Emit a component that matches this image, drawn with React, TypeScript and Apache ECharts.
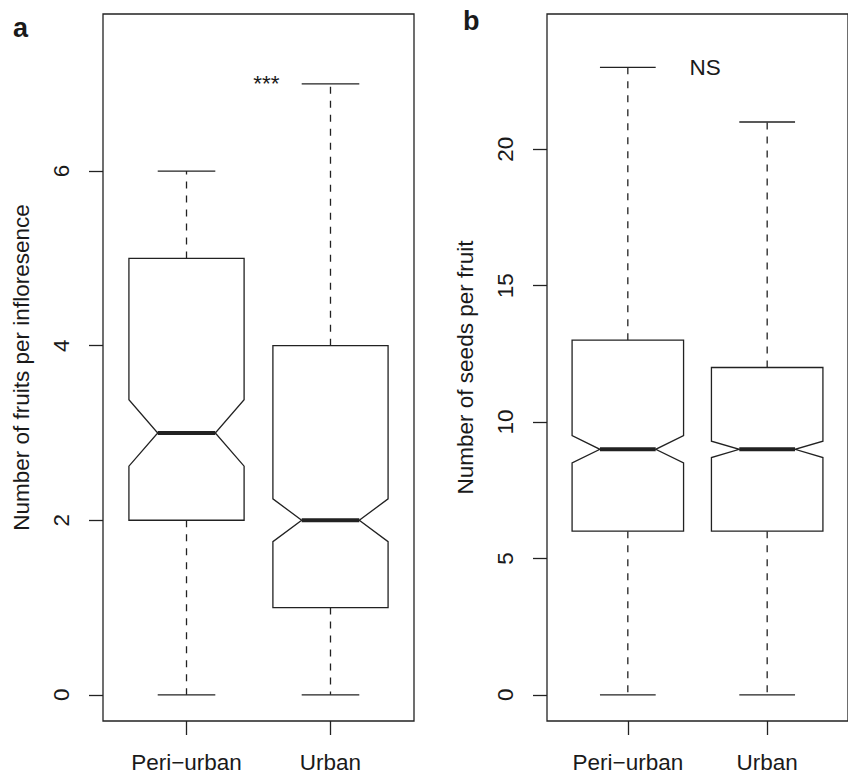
import React, { useEffect, useRef } from "react";
import * as echarts from "echarts";

// ---------- data ----------
const categories = ["Peri\u2212urban", "Urban"];
const categoryPositions = [1, 2];

// Panel a: number of fruits per infloresence
const fruitsMin = [0, 0];
const fruitsQ1 = [2, 1];
const fruitsMedian = [3, 2];
const fruitsQ3 = [5, 4];
const fruitsMax = [6, 7];
const fruitsNotchLow = [2.62, 1.755];
const fruitsNotchHigh = [3.38, 2.245];
const fruitsTicks = [0, 2, 4, 6];
const fruitsNote = ["***"];
const fruitsNotePos = [1.555, 7];

// Panel b: number of seeds per fruit
const seedsMin = [0, 0];
const seedsQ1 = [6, 6];
const seedsMedian = [9, 9];
const seedsQ3 = [13, 12];
const seedsMax = [23, 21];
const seedsNotchLow = [8.5, 8.7];
const seedsNotchHigh = [9.5, 9.3];
const seedsTicks = [0, 5, 10, 15, 20];
const seedsNote = ["NS"];
const seedsNotePos = [1.555, 23];

const panelLabels = ["a", "b"];
const yTitles = ["Number of fruits per infloresence", "Number of seeds per fruit"];

// ---------- style ----------
const INK = "#222222";
const TEXT = "#1a1a1a";
const FONT = "'Liberation Sans', Arial, Helvetica, sans-serif";
const FS = 22.5;
const LW = 1.3;
const BOX_HALF = 0.4;
const STAPLE_HALF = 0.2;

function boxData(mn: number[], q1: number[], md: number[], q3: number[], mx: number[], nl: number[], nh: number[]) {
  return categoryPositions.map((x, i) => [x, mn[i], q1[i], md[i], q3[i], mx[i], nl[i], nh[i]]);
}

function renderBox(params: any, api: any) {
  const x = api.value(0);
  const mn = api.value(1);
  const q1 = api.value(2);
  const md = api.value(3);
  const q3 = api.value(4);
  const mx = api.value(5);
  const nl = api.value(6);
  const nh = api.value(7);
  const c = (xx: number, yy: number) => api.coord([xx, yy]);
  const L = x - BOX_HALF;
  const R = x + BOX_HALF;
  const l = x - STAPLE_HALF;
  const r = x + STAPLE_HALF;
  const poly = [
    c(L, q1), c(L, nl), c(l, md), c(L, nh), c(L, q3),
    c(R, q3), c(R, nh), c(r, md), c(R, nl), c(R, q1),
  ];
  const line = (a: number[], b: number[], extra: any = {}) => ({
    type: "line",
    shape: { x1: a[0], y1: a[1], x2: b[0], y2: b[1] },
    style: { stroke: INK, lineWidth: LW, fill: null, ...extra },
    silent: true,
  });
  return {
    type: "group",
    children: [
      line(c(x, q3), c(x, mx), { lineDash: [7, 7] }),
      line(c(x, q1), c(x, mn), { lineDash: [7, 7] }),
      line(c(l, mx), c(r, mx)),
      line(c(l, mn), c(r, mn)),
      {
        type: "polygon",
        shape: { points: poly },
        style: { fill: "#ffffff", stroke: INK, lineWidth: LW },
        silent: true,
      },
      line(c(l, md), c(r, md), { lineWidth: 4 }),
    ],
  };
}

function renderNote(params: any, api: any) {
  const p = api.coord([api.value(0), api.value(1)]);
  return {
    type: "text",
    x: p[0],
    y: p[1],
    style: {
      text: params.seriesIndex === 1 ? fruitsNote[0] : seedsNote[0],
      fill: TEXT,
      fontSize: FS,
      fontFamily: FONT,
      align: "center",
      verticalAlign: "middle",
    },
    silent: true,
  };
}

export default function App() {
  const ref = useRef<HTMLDivElement>(null);
  useEffect(() => {
    if (!ref.current) return;
    const chart = echarts.init(ref.current, null, { renderer: "svg" });

    const gridBase = {
      top: 14,
      width: 311,
      height: 707,
      show: true,
      borderColor: INK,
      borderWidth: LW,
      backgroundColor: "transparent",
      containLabel: false,
    };

    const xAxisFor = (gi: number) => ({
      gridIndex: gi,
      type: "value",
      min: 0.42,
      max: 2.58,
      axisLine: { show: false, onZero: false },
      splitLine: { show: false },
      axisTick: {
        show: true,
        length: 14,
        customValues: categoryPositions,
        lineStyle: { color: INK, width: LW },
      },
      axisLabel: {
        show: true,
        customValues: categoryPositions,
        formatter: (v: number) => categories[Math.round(v) - 1] ?? "",
        margin: 30,
        color: TEXT,
        fontSize: FS,
        fontFamily: FONT,
      },
    });

    const yAxisFor = (gi: number, min: number, max: number, ticks: number[], title: string) => ({
      gridIndex: gi,
      type: "value",
      min,
      max,
      axisLine: { show: false, onZero: false },
      splitLine: { show: false },
      axisTick: {
        show: true,
        length: 14,
        customValues: ticks,
        lineStyle: { color: INK, width: LW },
      },
      axisLabel: {
        show: true,
        customValues: ticks,
        rotate: 90,
        margin: 30,
        color: TEXT,
        fontSize: FS,
        fontFamily: FONT,
      },
      name: title,
      nameLocation: "middle",
      nameRotate: 90,
      nameGap: 70,
      nameTextStyle: { color: TEXT, fontSize: FS, fontFamily: FONT },
    });

    const option: any = {
      animation: false,
      backgroundColor: "#ffffff",
      grid: [
        { ...gridBase, left: 103 },
        { ...gridBase, left: 547 },
      ],
      xAxis: [xAxisFor(0), xAxisFor(1)],
      yAxis: [
        yAxisFor(0, -0.3, 7.8, fruitsTicks, yTitles[0]),
        yAxisFor(1, -0.96, 24.96, seedsTicks, yTitles[1]),
      ],
      series: [
        {
          type: "custom",
          xAxisIndex: 0,
          yAxisIndex: 0,
          renderItem: renderBox,
          encode: { x: 0, y: [1, 2, 3, 4, 5] },
          data: boxData(fruitsMin, fruitsQ1, fruitsMedian, fruitsQ3, fruitsMax, fruitsNotchLow, fruitsNotchHigh),
          clip: false,
        },
        {
          type: "custom",
          xAxisIndex: 0,
          yAxisIndex: 0,
          renderItem: renderNote,
          encode: { x: 0, y: 1 },
          data: [fruitsNotePos],
          clip: false,
        },
        {
          type: "custom",
          xAxisIndex: 1,
          yAxisIndex: 1,
          renderItem: renderBox,
          encode: { x: 0, y: [1, 2, 3, 4, 5] },
          data: boxData(seedsMin, seedsQ1, seedsMedian, seedsQ3, seedsMax, seedsNotchLow, seedsNotchHigh),
          clip: false,
        },
        {
          type: "custom",
          xAxisIndex: 1,
          yAxisIndex: 1,
          renderItem: renderNote,
          encode: { x: 0, y: 1 },
          data: [seedsNotePos],
          clip: false,
        },
      ],
      graphic: [
        {
          type: "text",
          x: 13,
          y: 28,
          style: {
            text: panelLabels[0],
            fill: TEXT,
            font: `bold 27px ${FONT}`,
            align: "left",
            verticalAlign: "middle",
          },
        },
        {
          type: "text",
          x: 463,
          y: 20.5,
          style: {
            text: panelLabels[1],
            fill: TEXT,
            font: `bold 27px ${FONT}`,
            align: "left",
            verticalAlign: "middle",
          },
        },
      ],
    };
    chart.setOption(option);
    return () => chart.dispose();
  }, []);

  return (
    <div
      ref={ref}
      style={{ position: "absolute", left: 0, top: 0, width: 848, height: 774, background: "#fff" }}
    />
  );
}
